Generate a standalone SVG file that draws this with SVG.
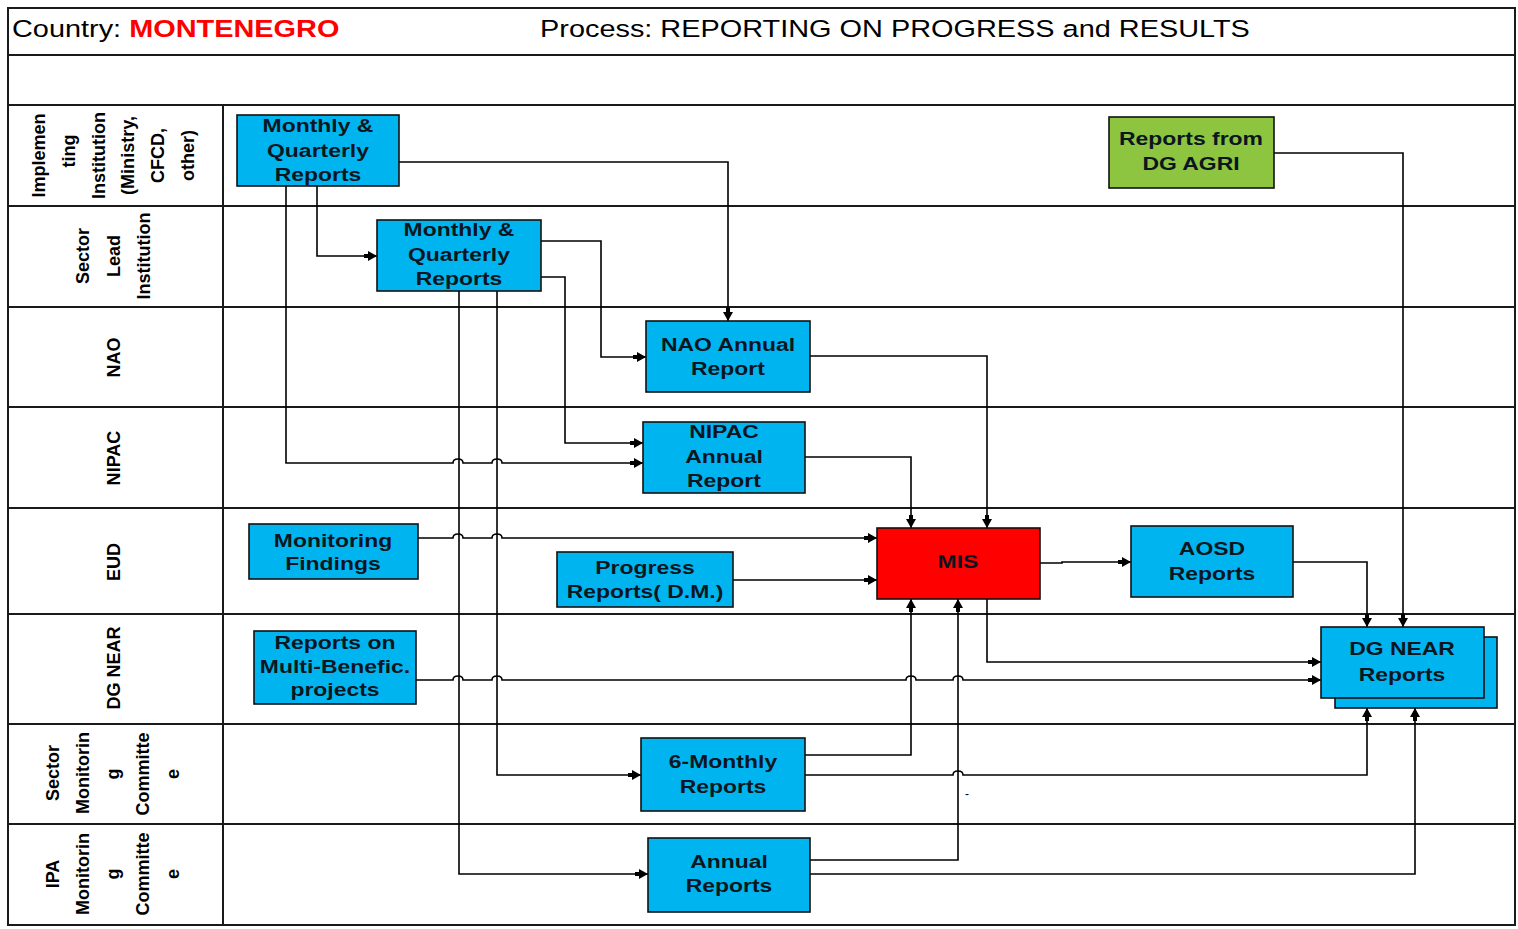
<svg xmlns="http://www.w3.org/2000/svg" width="1518" height="929" viewBox="0 0 1518 929">
<style>
.grid{stroke:#1a1a1a;stroke-width:2;fill:none}
.nd{fill:#00B5EF;stroke:#111;stroke-width:1.6}
.bt{font-family:"Liberation Sans",Arial,sans-serif;font-weight:bold;font-size:18.5px;text-anchor:middle;fill:#0b1620}
.lt{font-family:"Liberation Sans",Arial,sans-serif;font-weight:bold;font-size:19px;text-anchor:middle;fill:#000}
.ht{font-family:"Liberation Sans",Arial,sans-serif;font-size:23.3px;fill:#000}
.cn path{fill:none;stroke:#000;stroke-width:1.6;marker-end:url(#arr)}
</style>
<defs>
<marker id="arr" markerUnits="userSpaceOnUse" markerWidth="13" markerHeight="10" viewBox="0 0 13 10" refX="13" refY="5" orient="auto">
<path d="M0,3 H4 V0 L13,5 L4,10 V7 H0 z" fill="#000"/>
</marker>
</defs>
<rect x="0" y="0" width="1518" height="929" fill="#fff"/>
<g id="table">
<rect class="grid" x="8" y="8" width="1507" height="917"/>
<path class="grid" d="M8,55 H1515 M8,105 H1515 M8,206 H1515 M8,307 H1515 M8,407 H1515 M8,508 H1515 M8,614 H1515 M8,724 H1515 M8,824 H1515 M223,105 V925"/>
<text class="ht" transform="translate(12 0) scale(1.24 1)"><tspan x="0" y="37">Country: </tspan><tspan font-weight="bold" fill="#ff0000">MONTENEGRO</tspan></text>
<text class="ht" transform="translate(540 0) scale(1.24 1)"><tspan x="0" y="37">Process: REPORTING ON PROGRESS and RESULTS</tspan></text>
</g>
<g id="lane-labels">
<text class="lt" transform="translate(45 155.5) rotate(-90) scale(0.95 1)">Implemen</text>
<text class="lt" transform="translate(75 151) rotate(-90) scale(0.95 1)">ting</text>
<text class="lt" transform="translate(104.6 155.5) rotate(-90) scale(0.95 1)">Institution</text>
<text class="lt" transform="translate(134.4 155.5) rotate(-90) scale(0.95 1)">(Ministry,</text>
<text class="lt" transform="translate(164.2 155.5) rotate(-90) scale(0.95 1)">CFCD,</text>
<text class="lt" transform="translate(194 155.5) rotate(-90) scale(0.95 1)">other)</text>
<text class="lt" transform="translate(89 256) rotate(-90) scale(0.95 1)">Sector</text>
<text class="lt" transform="translate(120 256) rotate(-90) scale(0.95 1)">Lead</text>
<text class="lt" transform="translate(150 256) rotate(-90) scale(0.95 1)">Institution</text>
<text class="lt" transform="translate(120 357.5) rotate(-90) scale(0.95 1)">NAO</text>
<text class="lt" transform="translate(120 458) rotate(-90) scale(0.95 1)">NIPAC</text>
<text class="lt" transform="translate(120 562) rotate(-90) scale(0.95 1)">EUD</text>
<text class="lt" transform="translate(120 668) rotate(-90) scale(0.95 1)">DG NEAR</text>
<text class="lt" transform="translate(59 773) rotate(-90) scale(0.95 1)">Sector</text>
<text class="lt" transform="translate(89 773) rotate(-90) scale(0.95 1)">Monitorin</text>
<text class="lt" transform="translate(119 774) rotate(-90) scale(0.95 1)">g</text>
<text class="lt" transform="translate(149 774) rotate(-90) scale(0.95 1)">Committe</text>
<text class="lt" transform="translate(179 774) rotate(-90) scale(0.95 1)">e</text>
<text class="lt" transform="translate(59 874) rotate(-90) scale(0.95 1)">IPA</text>
<text class="lt" transform="translate(89 874) rotate(-90) scale(0.95 1)">Monitorin</text>
<text class="lt" transform="translate(119 874) rotate(-90) scale(0.95 1)">g</text>
<text class="lt" transform="translate(149 874) rotate(-90) scale(0.95 1)">Committe</text>
<text class="lt" transform="translate(179 874) rotate(-90) scale(0.95 1)">e</text>
</g>
<g id="connectors" class="cn">
<path d="M399,162 H728 V321"/>
<path d="M317,186 V256 H377"/>
<path d="M286,186 V463 H453 Q453,459 458,459 Q463,459 463,463 H492 Q492,459 497,459 Q502,459 502,463 H643"/>
<path d="M541,241 H601 V357 H646"/>
<path d="M541,277 H565 V443 H643"/>
<path d="M459,291 V874 H648"/>
<path d="M497,291 V775 H641"/>
<path d="M810,356 H987 V528"/>
<path d="M805,457 H911 V528"/>
<path d="M418,538 H453 Q453,534 458,534 Q463,534 463,538 H492 Q492,534 497,534 Q502,534 502,538 H877"/>
<path d="M733,580 H877"/>
<path d="M416,680 H453 Q453,676 458,676 Q463,676 463,680 H492 Q492,676 497,676 Q502,676 502,680 H906 Q906,676 911,676 Q916,676 916,680 H953 Q953,676 958,676 Q963,676 963,680 H1321"/>
<path d="M987,599 V662 H1321"/>
<path d="M1040,563 H1062 V562 H1131"/>
<path d="M1293,562 H1367 V627"/>
<path d="M1274,153 H1403 V627"/>
<path d="M805,755 H911 V599"/>
<path d="M805,775 H953 Q953,771 958,771 Q963,771 963,775 H1367 V708"/>
<path d="M810,860 H958 V599"/>
<path d="M810,874 H1415 V708"/>
</g>
<g id="node-impl-reports">
<rect class="nd" x="237" y="115" width="162" height="71"/>
<text class="bt" transform="translate(318 0) scale(1.24 1)"><tspan x="0" y="132">Monthly &amp;</tspan><tspan x="0" y="157">Quarterly</tspan><tspan x="0" y="181">Reports</tspan></text>
</g>
<g id="node-sector-reports">
<rect class="nd" x="377" y="220" width="164" height="71"/>
<text class="bt" transform="translate(459 0) scale(1.24 1)"><tspan x="0" y="236">Monthly &amp;</tspan><tspan x="0" y="261">Quarterly</tspan><tspan x="0" y="285">Reports</tspan></text>
</g>
<g id="node-nao">
<rect class="nd" x="646" y="321" width="164" height="71"/>
<text class="bt" transform="translate(728 0) scale(1.24 1)"><tspan x="0" y="351">NAO Annual</tspan><tspan x="0" y="375">Report</tspan></text>
</g>
<g id="node-nipac">
<rect class="nd" x="643" y="422" width="162" height="71"/>
<text class="bt" transform="translate(724 0) scale(1.24 1)"><tspan x="0" y="438">NIPAC</tspan><tspan x="0" y="463">Annual</tspan><tspan x="0" y="487">Report</tspan></text>
</g>
<g id="node-mis">
<rect x="877" y="528" width="163" height="71" fill="#ff0000" stroke="#111" stroke-width="1.6"/>
<text class="bt" transform="translate(958 0) scale(1.24 1)"><tspan x="0" y="568">MIS</tspan></text>
</g>
<g id="node-progress">
<rect class="nd" x="557" y="552" width="176" height="55"/>
<text class="bt" transform="translate(645 0) scale(1.24 1)"><tspan x="0" y="574">Progress</tspan><tspan x="0" y="598">Reports( D.M.)</tspan></text>
</g>
<g id="node-monitoring">
<rect class="nd" x="249" y="524" width="169" height="55"/>
<text class="bt" transform="translate(333 0) scale(1.24 1)"><tspan x="0" y="547">Monitoring</tspan><tspan x="0" y="570">Findings</tspan></text>
</g>
<g id="node-multibenefic">
<rect class="nd" x="254" y="631" width="162" height="73"/>
<text class="bt" transform="translate(335 0) scale(1.24 1)"><tspan x="0" y="649">Reports on</tspan><tspan x="0" y="673">Multi-Benefic.</tspan><tspan x="0" y="696">projects</tspan></text>
</g>
<g id="node-aosd">
<rect class="nd" x="1131" y="526" width="162" height="71"/>
<text class="bt" transform="translate(1212 0) scale(1.24 1)"><tspan x="0" y="555">AOSD</tspan><tspan x="0" y="580">Reports</tspan></text>
</g>
<g id="node-dgnear">
<rect class="nd" x="1335" y="637" width="162" height="71"/>
<rect class="nd" x="1321" y="627" width="163" height="71"/>
<text class="bt" transform="translate(1402 0) scale(1.24 1)"><tspan x="0" y="655">DG NEAR</tspan><tspan x="0" y="681">Reports</tspan></text>
</g>
<g id="node-dgagri">
<rect x="1109" y="117" width="165" height="71" fill="#8DC440" stroke="#111" stroke-width="1.6"/>
<text class="bt" transform="translate(1191 0) scale(1.24 1)"><tspan x="0" y="145">Reports from</tspan><tspan x="0" y="170">DG AGRI</tspan></text>
</g>
<g id="node-6monthly">
<rect class="nd" x="641" y="738" width="164" height="73"/>
<text class="bt" transform="translate(723 0) scale(1.24 1)"><tspan x="0" y="768">6-Monthly</tspan><tspan x="0" y="793">Reports</tspan></text>
</g>
<g id="node-annual">
<rect class="nd" x="648" y="838" width="162" height="74"/>
<text class="bt" transform="translate(729 0) scale(1.24 1)"><tspan x="0" y="868">Annual</tspan><tspan x="0" y="892">Reports</tspan></text>
</g>
<text x="967" y="798" font-family="Liberation Sans, Arial, sans-serif" font-size="12" text-anchor="middle">-</text>
</svg>
